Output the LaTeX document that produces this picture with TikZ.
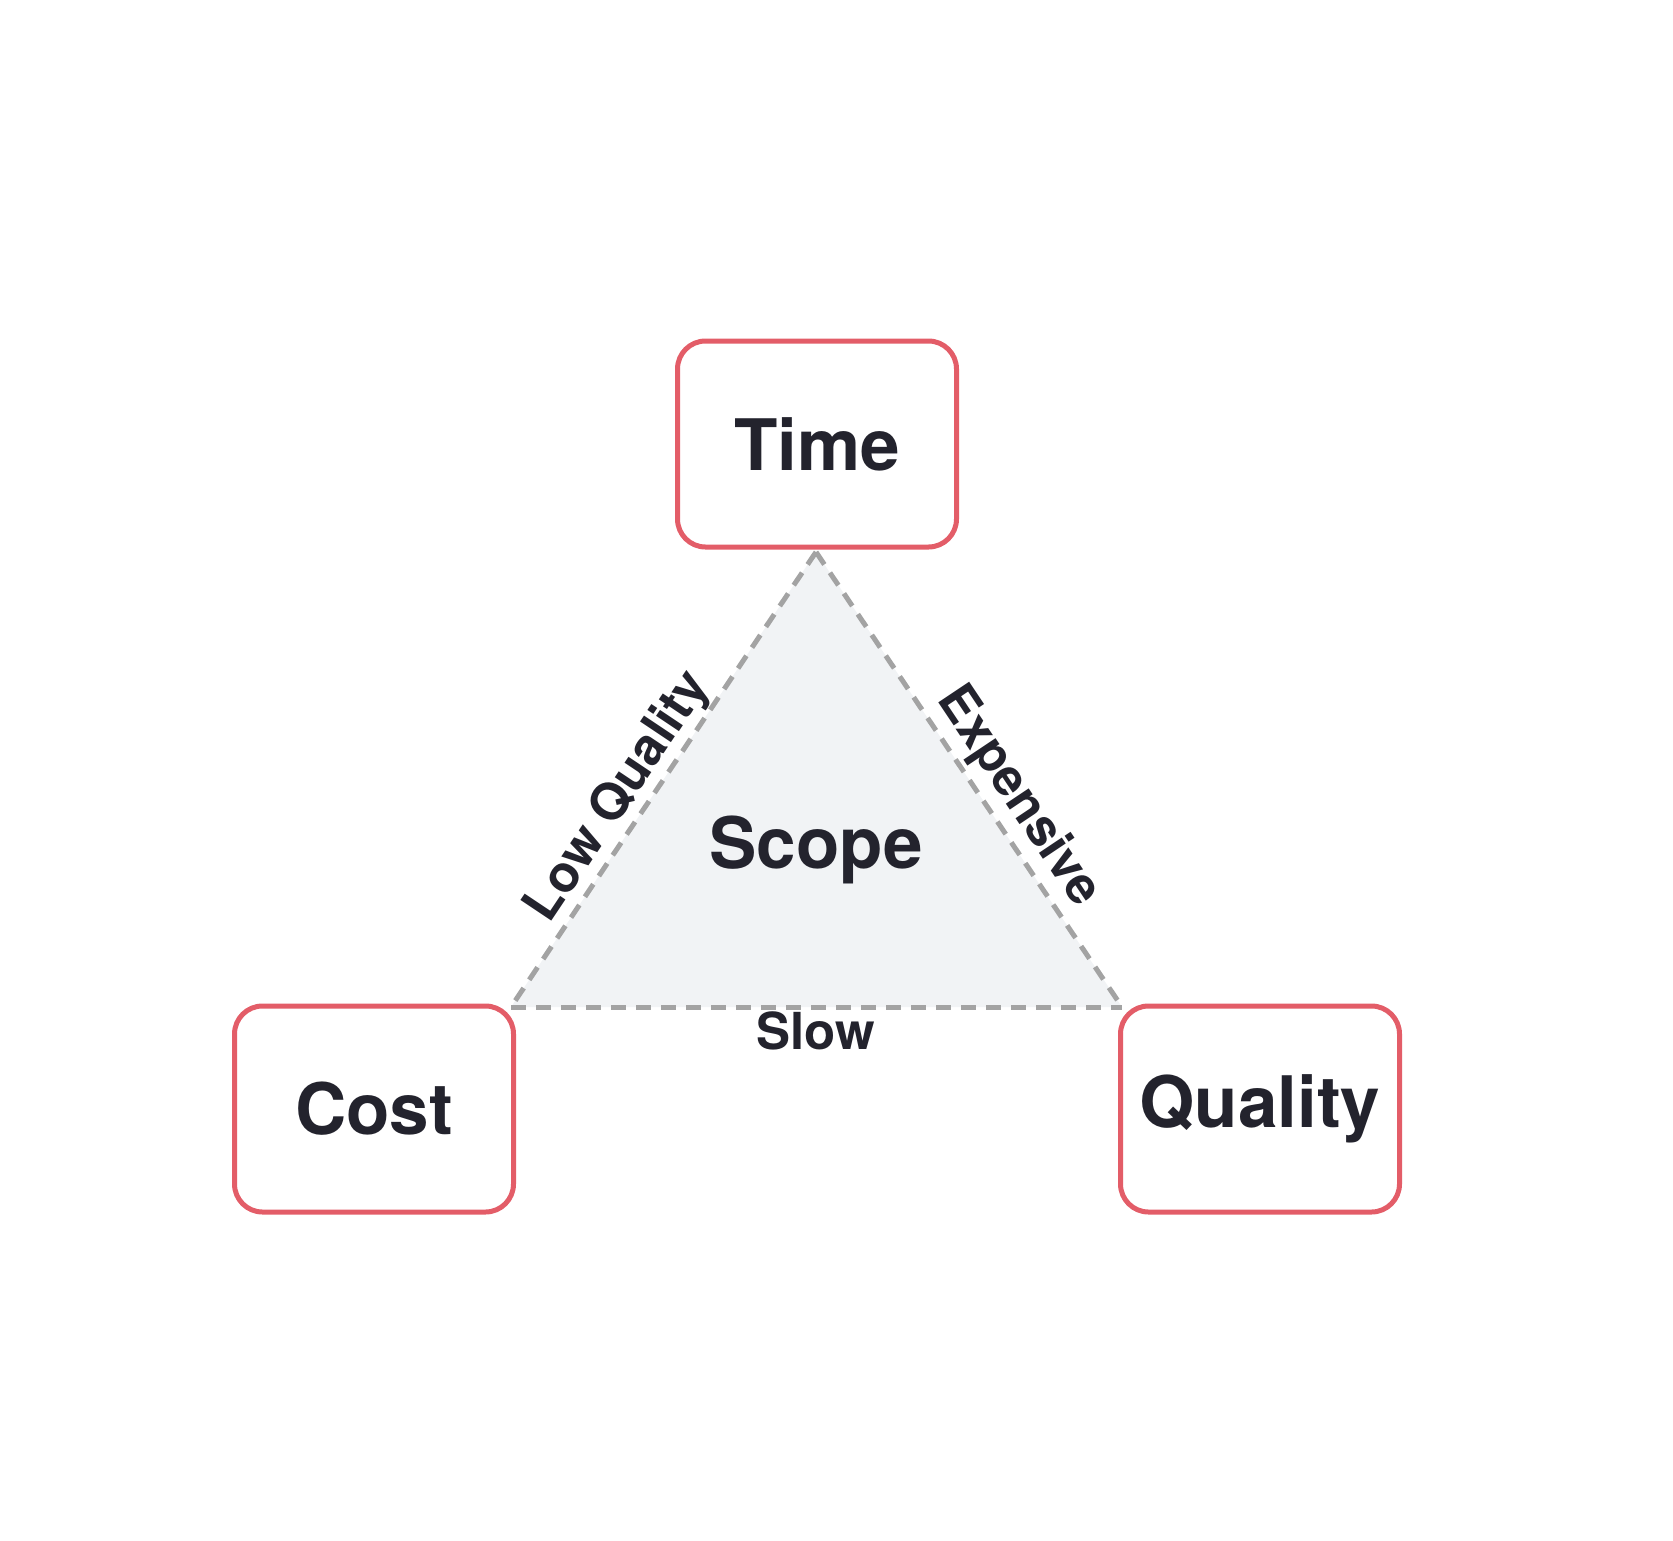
\documentclass[tikz,border=0pt]{standalone}
\usepackage{fontspec}
\setmainfont{TeX Gyre Heros}
\definecolor{boxred}{HTML}{E35D68}
\definecolor{txt}{HTML}{23232D}
\definecolor{tri}{HTML}{F1F3F5}
\definecolor{dash}{HTML}{A3A3A3}
\begin{document}
\begin{tikzpicture}[x=1pt,y=-1pt,
  cornerbox/.style={draw=boxred,line width=5pt,rounded corners=28pt,fill=white,minimum width=279pt,minimum height=206pt,font=\bfseries\fontsize{71}{80}\selectfont,text=txt},
  edgelbl/.style={font=\bfseries\fontsize{51}{60}\selectfont,text=txt},
  edgeline/.style={draw=dash,line width=5pt,dash pattern=on 15pt off 10pt}]
\useasboundingbox (0,0) rectangle (1673,1540);
\coordinate (A) at (816,552);
\coordinate (B) at (511,1007);
\coordinate (C) at (1122,1007);
\fill[tri] (A) -- (B) -- (C) -- cycle;
\draw[edgeline] (A) -- (B);
\draw[edgeline] (A) -- (C);
\draw[edgeline] (B) -- (C);
\node[cornerbox] (time) at (817,444) {Time};
\node[cornerbox] (cost) at (374,1109) {Cost};
\node[cornerbox] (qual) at (1260,1109) {Quality};
\node[font=\bfseries\fontsize{71}{80}\selectfont,text=txt] (scope) at (816,850) {Scope};
\node[edgelbl] (slow) at (816,1031) {Slow};
\node[edgelbl,rotate=56.2] (lowq) at (619,797) {Low Quality};
\node[edgelbl,rotate=-56.2] (exp) at (1018,797) {Expensive};
\end{tikzpicture}
\end{document}
